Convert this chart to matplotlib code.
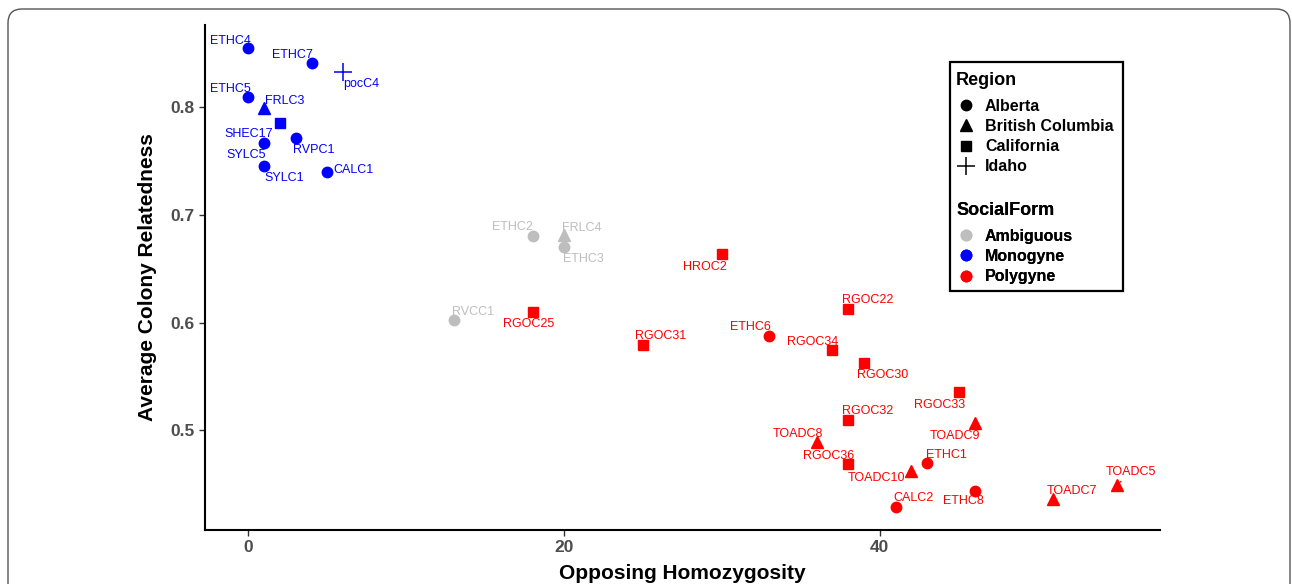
import matplotlib
matplotlib.use("Agg")
import matplotlib.pyplot as plt
from matplotlib.lines import Line2D
from matplotlib.patches import FancyBboxPatch, Rectangle
from matplotlib.transforms import IdentityTransform

plt.rcParams['font.family'] = ['Liberation Sans', 'DejaVu Sans']

# colonies
names = ["ETHC4", "ETHC7", "pocC4", "ETHC5", "FRLC3", "SHEC17", "RVPC1", "SYLC5", "SYLC1", "CALC1",
         "ETHC2", "FRLC4", "ETHC3", "RVCC1",
         "RGOC25", "HROC2", "RGOC31", "ETHC6", "RGOC22", "RGOC34", "RGOC30", "RGOC33", "RGOC32",
         "TOADC9", "TOADC8", "RGOC36", "ETHC1", "TOADC10", "ETHC8", "CALC2", "TOADC5", "TOADC7"]
homoz = [0, 4, 6, 0, 1, 2, 3, 1, 1, 5,
         18, 20, 20, 13,
         18, 30, 25, 33, 38, 37, 39, 45, 38,
         46, 36, 38, 43, 42, 46, 41, 55, 51]
relat = [0.855, 0.841, 0.832, 0.809, 0.799, 0.785, 0.771, 0.767, 0.7455, 0.740,
         0.680, 0.681, 0.670, 0.602,
         0.610, 0.664, 0.579, 0.588, 0.613, 0.575, 0.563, 0.536, 0.510,
         0.507, 0.489, 0.469, 0.470, 0.462, 0.444, 0.429, 0.449, 0.436]
region = ["Alberta", "Alberta", "Idaho", "Alberta", "British Columbia", "California", "Alberta", "Alberta", "Alberta", "Alberta",
          "Alberta", "British Columbia", "Alberta", "Alberta",
          "California", "California", "California", "Alberta", "California", "California", "California", "California", "California",
          "British Columbia", "British Columbia", "California", "Alberta", "British Columbia", "Alberta", "Alberta",
          "British Columbia", "British Columbia"]
social = ["Monogyne"] * 10 + ["Ambiguous"] * 4 + ["Polygyne"] * 18

regions = ["Alberta", "British Columbia", "California", "Idaho"]
forms = ["Ambiguous", "Monogyne", "Polygyne"]

# estilos
marcas = {"Alberta": "o", "British Columbia": "^", "California": "s", "Idaho": "+"}
tam = {"Alberta": 7.5, "British Columbia": 9, "California": 7.5, "Idaho": 13}
colores = {"Ambiguous": "#BEBEBE", "Monogyne": "#0000FF", "Polygyne": "#FF0000"}

# posicion de etiquetas (pixeles respecto al punto)
off = {"ETHC4": (-18, 7), "ETHC7": (-19, 8), "pocC4": (18, -12), "ETHC5": (-18, 8), "FRLC3": (20, 7),
       "SHEC17": (-31, -11), "RVPC1": (18, -12), "SYLC5": (-18, -12), "SYLC1": (20, -12), "CALC1": (26, 2),
       "ETHC2": (-20, 9), "FRLC4": (18, 7), "ETHC3": (19, -12), "RVCC1": (19, 8),
       "RGOC25": (-4, -12), "HROC2": (-17, -13), "RGOC31": (18, 9), "ETHC6": (-19, 9), "RGOC22": (19, 9),
       "RGOC34": (-20, 8), "RGOC30": (19, -12), "RGOC33": (-19, -13), "RGOC32": (19, 9),
       "TOADC9": (-20, -13), "TOADC8": (-19, 8), "RGOC36": (-20, 8), "ETHC1": (19, 8),
       "TOADC10": (-35, -7), "ETHC8": (-11, -10), "CALC2": (18, 9), "TOADC5": (14, 13), "TOADC7": (19, 8)}
con_linea = ["TOADC5"]

fig = plt.figure(figsize=(12.92, 5.84), dpi=100)
ax = fig.add_axes([205/1292, 1-530/584, 955/1292, 505/584])

for i in range(len(names)):
  c = colores[social[i]]
  r = region[i]
  if r == "Idaho":
    ax.plot(homoz[i], relat[i], marker='+', ms=tam[r], mew=1.1, color=c, ls='none')
  else:
    ax.plot(homoz[i], relat[i], marker=marcas[r], ms=tam[r], color=c, mec=c, ls='none')
  dx, dy = off[names[i]]
  if names[i] in con_linea:
    ax.annotate(names[i], (homoz[i], relat[i]), xytext=(dx, dy), textcoords='offset pixels',
                ha='center', va='center', fontsize=9, color=c,
                arrowprops=dict(arrowstyle='-', color=c, lw=0.8, shrinkA=0, shrinkB=3))
  else:
    ax.annotate(names[i], (homoz[i], relat[i]), xytext=(dx, dy), textcoords='offset pixels',
                ha='center', va='center', fontsize=9, color=c)

ax.set_xlim(-2.75, 57.75)
ax.set_ylim(0.4077, 0.876)
ax.set_xticks([0, 20, 40])
ax.set_yticks([0.5, 0.6, 0.7, 0.8])
ax.set_yticklabels(["0.5", "0.6", "0.7", "0.8"])
ax.tick_params(length=4, width=1, color='#333333', labelcolor='#4D4D4D', labelsize=12.5)
for t in ax.get_xticklabels() + ax.get_yticklabels():
  t.set_fontweight('bold')
for s in ['top', 'right']:
  ax.spines[s].set_visible(False)
for s in ['left', 'bottom']:
  ax.spines[s].set_linewidth(1.5)
  ax.spines[s].set_color('black')

ax.set_xlabel("Opposing Homozygosity", fontsize=15, fontweight='bold')
ax.set_ylabel("Average Colony Relatedness", fontsize=15, fontweight='bold')
ax.xaxis.set_label_coords(0.5, -0.068)
ax.yaxis.set_label_coords(-0.0597, 0.5)
ax.yaxis.label.set_va('center')

# leyendas
h1 = []
for r in regions:
  if r == "Idaho":
    h1.append(Line2D([], [], marker='+', ms=13, mew=1.1, color='black', ls='none'))
  else:
    h1.append(Line2D([], [], marker=marcas[r], ms=tam[r], color='black', ls='none'))
h2 = [Line2D([], [], marker='o', ms=7.5, color=colores[f], ls='none') for f in forms]

props = dict(loc='upper left', bbox_transform=fig.transFigure, frameon=False, alignment='left',
             prop={'weight': 'bold', 'size': 11.5}, title_fontproperties={'weight': 'bold', 'size': 13},
             handlelength=1.2, handletextpad=0.6, labelspacing=0.32, borderaxespad=0, borderpad=0.2)
leg1 = ax.legend(h1, regions, title="Region", bbox_to_anchor=(953/1292, 1-69/584), **props)
leg1._legend_box.sep = 7
ax.add_artist(leg1)
leg2 = ax.legend(h2, forms, title="SocialForm", bbox_to_anchor=(953/1292, 1-199/584), **props)
leg2._legend_box.sep = 7
ax.add_artist(leg2)
fig.add_artist(Rectangle((950/1292, 1-291/584), 173/1292, 229/584, transform=fig.transFigure,
                         fill=False, ec='black', lw=1.6))

# marco exterior
fig.add_artist(FancyBboxPatch((8, -40), 1282, 584-9+40, boxstyle='round,pad=0,rounding_size=14',
                              transform=IdentityTransform(), fill=False, ec='#555555', lw=1))

fig.savefig("out.png", dpi=100)
